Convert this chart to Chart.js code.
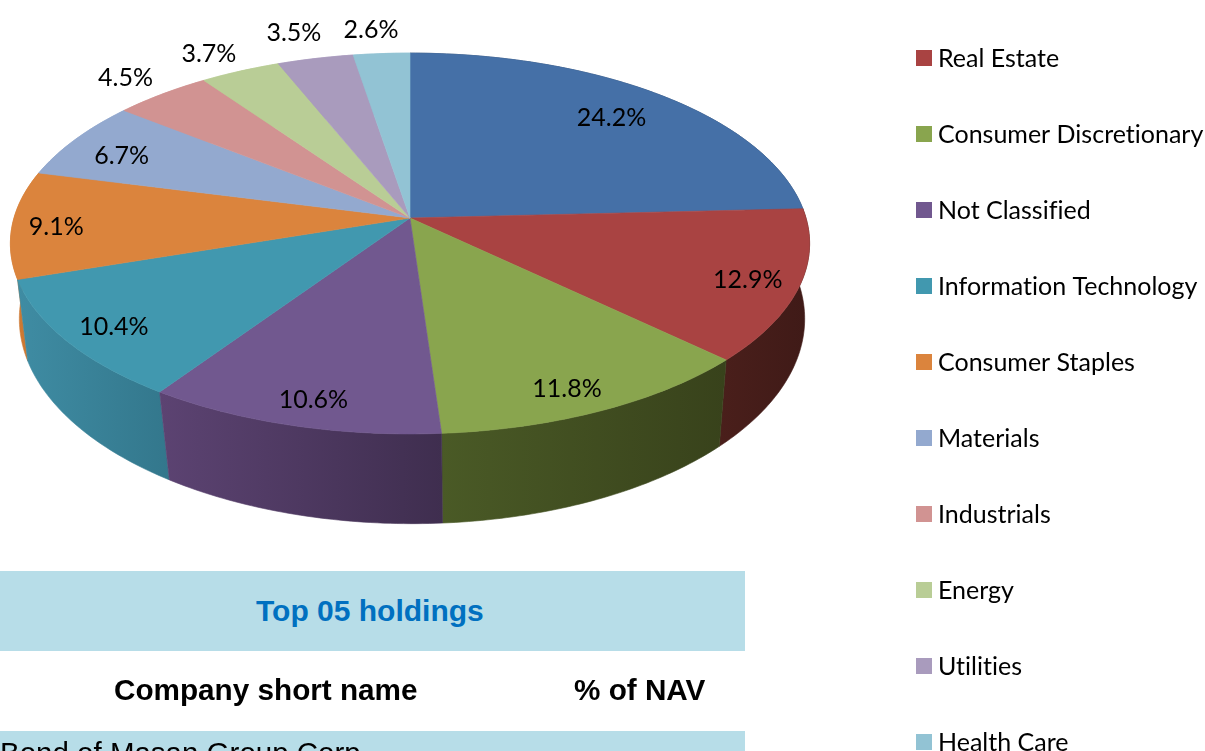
<!DOCTYPE html>
<html><head><meta charset="utf-8">
<script src="https://cdn.jsdelivr.net/npm/chart.js@4/dist/chart.umd.min.js"></script>
<style>
html,body{margin:0;padding:0;background:#fff;overflow:hidden;width:1205px;height:751px}
#c{position:absolute;left:0;top:0}
.band{position:absolute;left:0;width:745px;background:#b7dde8}
.t{position:absolute;font-family:"Liberation Sans",Arial,sans-serif;white-space:nowrap;color:#000;line-height:1}
</style></head><body>
<canvas id="c" width="1205" height="751"></canvas>
<div class="band" style="top:571px;height:80px"></div>
<div class="band" style="top:731px;height:20px"></div>
<div class="t" style="left:256px;top:596px;font-size:30px;font-weight:bold;color:#0070c0">Top 05 holdings</div>
<div class="t" style="left:114px;top:675px;font-size:29.7px;font-weight:bold">Company short name</div>
<div class="t" style="left:574px;top:675px;font-size:29.7px;font-weight:bold">% of NAV</div>
<div class="t" style="left:0;top:738px;font-size:29.5px">Bond of Masan Group Corp</div>
<script>
const categories = ["Financials","Real Estate","Consumer Discretionary","Not Classified","Information Technology","Consumer Staples","Materials","Industrials","Energy","Utilities","Health Care"];
const shares = [24.2,12.9,11.8,10.6,10.4,9.1,6.7,4.5,3.7,3.5,2.6];
const topColors = ["#4570a7","#a94342","#89a54e","#71588f","#4198af","#db843d","#93a9cf","#d19392","#b9cd96","#a99bbd","#92c3d4"];
const sideLeft  = ["#2a4365","#4a1f1b","#4a5a26","#5c4372","#3f8ca3","#d07b35","#93a9cf","#d19392","#b9cd96","#a99bbd","#92c3d4"];
const sideRight = ["#2a4365","#3f1a17","#38421b","#3f2e4f","#33778c","#c7742d","#93a9cf","#d19392","#b9cd96","#a99bbd","#92c3d4"];
const labelRadius = [0.80,0.88,0.87,0.88,0.885,0.89,0.83,1.16,1.17,1.2,1.18];
const labelShiftX = [-1,-3,-7,6,5,0,-8,-1,-6,-5,-6];
const labelShiftY = [1,2,6,3,1,3,4,2,5,2,2];

const FONT = '25px Lato';
const topRim = {cx:410,y0:218,a:187,b:396,k:0.134};
const lowRim = {cx:412,y0:295,a:202,b:390,k:0.1166};
function project(p,a,r){
  const u=Math.cos(a)*r, v=Math.sin(a)*r, d=1-p.k*v;
  return {x:p.cx+p.b*u/d, y:p.y0+p.a*v/d};
}
function rimPoints(p,a0,a1){
  const n=Math.max(2,Math.ceil((a1-a0)/0.015)), pts=[];
  for(let i=0;i<=n;i++) pts.push(project(p,a0+(a1-a0)*i/n,1));
  return pts;
}
const pie3d = {
  id:'pie3d',
  beforeDatasetsDraw(chart){
    const ctx=chart.ctx, arcs=chart.getDatasetMeta(0).data;
    ctx.save();
    ctx.lineJoin='round';
    const order=arcs.map((_,i)=>i).sort((i,j)=>
      Math.sin((arcs[i].startAngle+arcs[i].endAngle)/2)-Math.sin((arcs[j].startAngle+arcs[j].endAngle)/2));
    order.forEach(i=>{
      const el=arcs[i], up=rimPoints(topRim,el.startAngle,el.endAngle), lo=rimPoints(lowRim,el.startAngle,el.endAngle);
      const xs=up.concat(lo).map(p=>p.x);
      const g=ctx.createLinearGradient(Math.min(...xs),0,Math.max(...xs),0);
      g.addColorStop(0,sideLeft[i]); g.addColorStop(1,sideRight[i]);
      ctx.beginPath();
      up.forEach((p,n)=>n?ctx.lineTo(p.x,p.y):ctx.moveTo(p.x,p.y));
      lo.reverse().forEach(p=>ctx.lineTo(p.x,p.y));
      ctx.closePath();
      ctx.fillStyle=g; ctx.strokeStyle=g; ctx.lineWidth=0.6;
      ctx.fill(); ctx.stroke();
    });
    arcs.forEach((el,i)=>{
      const up=rimPoints(topRim,el.startAngle,el.endAngle);
      ctx.beginPath();
      ctx.moveTo(topRim.cx,topRim.y0);
      up.forEach(p=>ctx.lineTo(p.x,p.y));
      ctx.closePath();
      ctx.fillStyle=topColors[i]; ctx.strokeStyle=topColors[i]; ctx.lineWidth=0.6;
      ctx.fill(); ctx.stroke();
    });
    ctx.restore();
    return false;
  },
  afterDraw(chart){
    const ctx=chart.ctx, arcs=chart.getDatasetMeta(0).data, vals=chart.data.datasets[0].data;
    ctx.save();
    ctx.font=FONT; ctx.fillStyle='#000'; ctx.textBaseline='middle'; ctx.textAlign='center';
    ctx.textRendering='optimizeSpeed';
    arcs.forEach((el,i)=>{
      const p=project(topRim,(el.startAngle+el.endAngle)/2,labelRadius[i]);
      ctx.fillText(vals[i].toFixed(1)+'%',p.x+labelShiftX[i],p.y+labelShiftY[i]);
    });
    // legend: the first entry lies above the top edge of the picture
    ctx.textAlign='left';
    chart.data.labels.forEach((lab,i)=>{
      const y=-18+76*i;
      ctx.fillStyle=topColors[i];
      ctx.fillRect(916,y-8,16,16);
      ctx.fillStyle='#000';
      ctx.fillText(lab,938,y+1);
    });
    ctx.restore();
  }
};
new Chart(document.getElementById('c'),{
  type:'pie',
  data:{labels:categories,datasets:[{data:shares,backgroundColor:topColors,borderWidth:0}]},
  options:{responsive:false,animation:false,plugins:{legend:{display:false},tooltip:{enabled:false}}},
  plugins:[pie3d]
});
</script>
</body></html>
